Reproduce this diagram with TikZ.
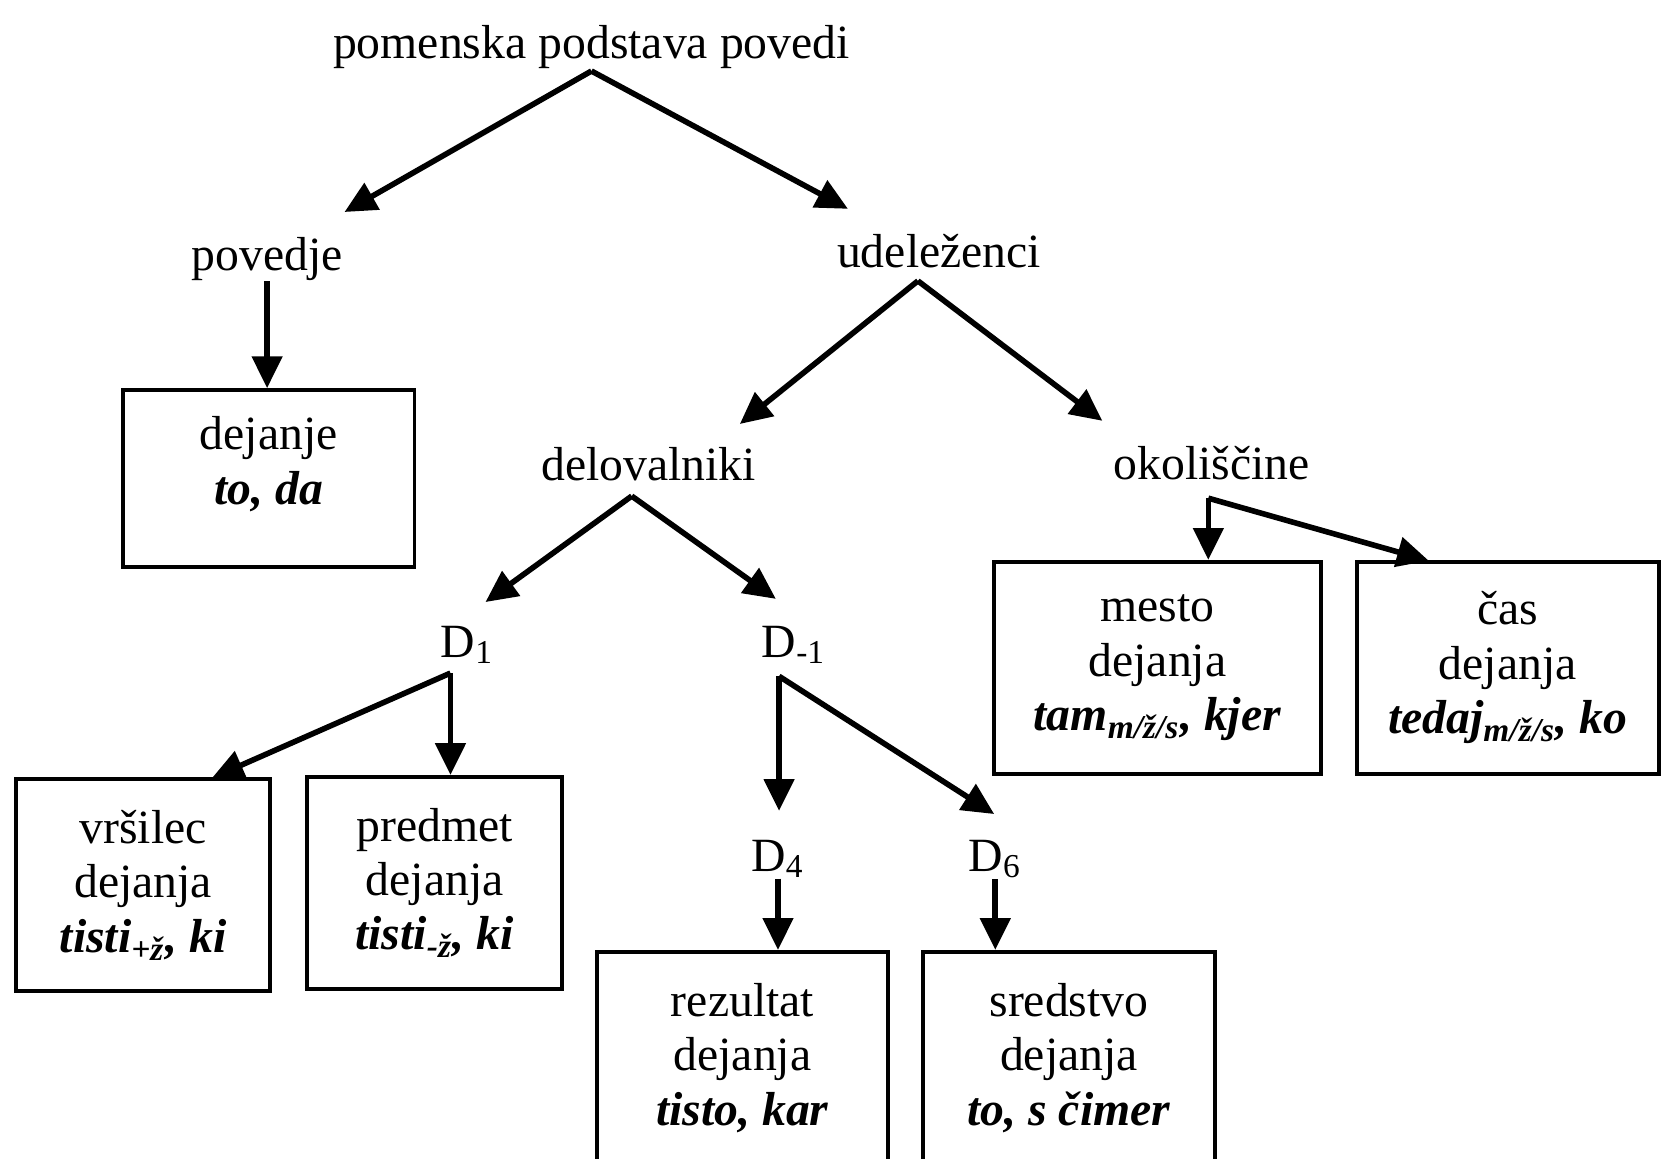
\documentclass[tikz,border=0pt]{standalone}
\usepackage{fontspec}
\setmainfont{Liberation Serif}
\usetikzlibrary{arrows.meta}
\newcommand{\bfi}[1]{\textbf{\textit{#1}}}

\begin{document}
\begin{tikzpicture}[x=0.01cm,y=-0.01cm,>={Triangle[length=0.3cm,width=0.28cm]},
  every node/.style={font=\fontsize{12.8}{14.6}\selectfont},
  lbl/.style={anchor=base,inner sep=0pt},
  box/.style={draw,line width=1pt,align=center,minimum width=2.75cm,minimum height=2cm,inner sep=0pt},
  arr/.style={->,line width=1.5pt}]

            \useasboundingbox (0,0) rectangle (1568,1093);

            \node[lbl] (pom) at (558,55) {pomenska podstava povedi};
            \node[lbl] (pov) at (252,255) {povedje};
            \node[lbl] (ude) at (886,252) {udeleženci};
            \node[lbl] (del) at (612,453) {delovalniki};
            \node[lbl] (oko) at (1143,452) {okoliščine};
            \node[lbl] (d1) at (441,620) {D\textsubscript{1}};
            \node[lbl] (dm1) at (749,620) {D\textsubscript{-1}};
            \node[lbl] (d4) at (734,822) {D\textsubscript{4}};
            \node[lbl] (d6) at (939,822) {D\textsubscript{6}};

            \node[box, minimum height=1.67cm, text depth=0.34cm] (dej) at (253.5,451.5) {dejanje\\\bfi{to, da}};
            \node[box, minimum width=2.4cm] (vrs) at (135,835) {vršilec\\dejanja\\\bfi{tisti\textsubscript{+ž}, ki}};
            \node[box, minimum width=2.4cm] (pred) at (410,833) {predmet\\dejanja\\\bfi{tisti\textsubscript{-ž}, ki}};
            \node[box, minimum width=3.08cm] (mes) at (1092,630) {mesto\\dejanja\\\bfi{tam\textsubscript{m/ž/s}, kjer}};
            \node[box, minimum width=2.85cm] (cas) at (1422.5,630) {čas\\dejanja\\\bfi{tedaj\textsubscript{m/ž/s}, ko}};
            \node[box] (rez) at (700.5,998) {rezultat\\dejanja\\\bfi{tisto, kar}};
            \node[box] (sred) at (1008.5,998) {sredstvo\\dejanja\\\bfi{to, s čimer}};

            % branch points and arrow ends
            \coordinate (pomA) at (558,67);
            \coordinate (povT) at (325,200);
            \coordinate (udeT) at (800,197);
            \coordinate (udeA) at (866,265);
            \coordinate (delT) at (698,400);
            \coordinate (okoT) at (1040,397);
            \coordinate (delA) at (596,468);
            \coordinate (d1T) at (458,568);
            \coordinate (dm1T) at (732,565);
            \coordinate (okoA) at (1140,470);
            \coordinate (casT) at (1348,529);
            \coordinate (d1A) at (425,635);
            \coordinate (vrsT) at (200,734);
            \coordinate (dm1A) at (735,638);
            \coordinate (d4T) at (735,765);
            \coordinate (d6T) at (938,768);

            \draw[arr] (pomA) -- (povT);
            \draw[arr] (pomA) -- (udeT);
            \draw[arr] (pov.south) -- (pov.south |- dej.north);
            \draw[arr] (udeA) -- (delT);
            \draw[arr] (udeA) -- (okoT);
            \draw[arr] (delA) -- (d1T);
            \draw[arr] (delA) -- (dm1T);
            \draw[arr] (okoA) -- (okoA |- mes.north);
            \draw[arr] (okoA) -- (casT);
            \draw[arr] (d1A) -- (vrsT);
            \draw[arr] (d1A) -- (d1A |- pred.north);
            \draw[arr] (dm1A) -- (d4T);
            \draw[arr] (dm1A) -- (d6T);
            \draw[arr] (d4.south) -- (d4.south |- rez.north);
            \draw[arr] (d6.south) -- (d6.south |- sred.north);

            ;
        \end{tikzpicture}
\end{document}
